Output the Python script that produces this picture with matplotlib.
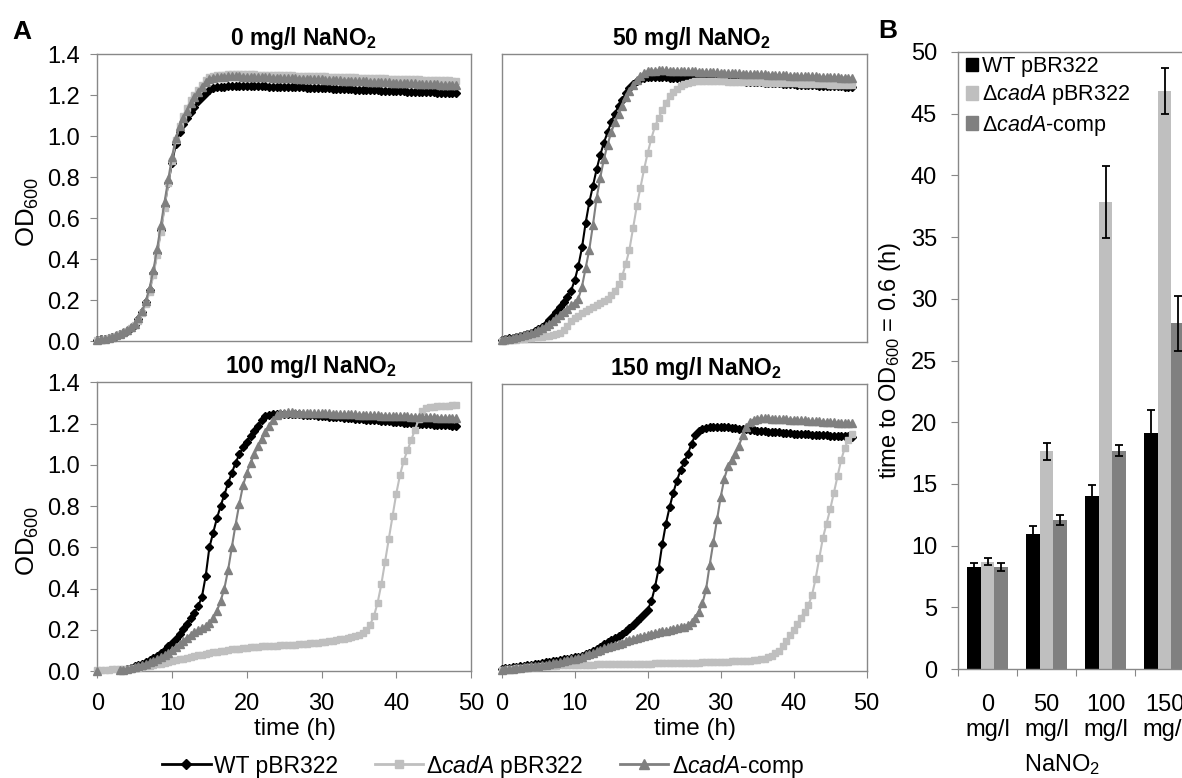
import numpy as np
import matplotlib
matplotlib.use('Agg')
import matplotlib.pyplot as plt
from matplotlib.patches import Patch
from matplotlib.lines import Line2D

plt.rcParams['font.family'] = ['Liberation Sans', 'DejaVu Sans']
plt.rcParams['mathtext.fontset'] = 'custom'
plt.rcParams['mathtext.rm'] = 'Liberation Sans'
plt.rcParams['mathtext.it'] = 'Liberation Sans:italic'
plt.rcParams['mathtext.bf'] = 'Liberation Sans:bold'

# readings every 30 min, 0 - 48 h
time_h = np.arange(0, 48.5, 0.5)
nan = np.nan

# ---- A: OD600 growth curves ----
# 0 mg/l NaNO2
wt_0 = [0.005, 0.008, 0.012, 0.016, 0.02, 0.026, 0.033, 0.041, 0.05, 0.062,
        0.08, 0.105, 0.14, 0.19, 0.25, 0.33, 0.43, 0.54, 0.66, 0.77,
        0.87, 0.96, 1.02, 1.06, 1.09, 1.12, 1.145, 1.17, 1.19, 1.21,
        1.225, 1.235, 1.238, 1.24, 1.242, 1.243, 1.244, 1.245, 1.245, 1.245,
        1.245, 1.245, 1.244, 1.244, 1.243, 1.243, 1.242, 1.242, 1.241, 1.241,
        1.24, 1.24, 1.239, 1.239, 1.238, 1.238, 1.237, 1.236, 1.236, 1.235,
        1.234, 1.234, 1.233, 1.232, 1.232, 1.231, 1.23, 1.23, 1.229, 1.228,
        1.227, 1.227, 1.226, 1.225, 1.224, 1.224, 1.223, 1.222, 1.221, 1.221,
        1.22, 1.219, 1.219, 1.218, 1.217, 1.217, 1.216, 1.215, 1.215, 1.214,
        1.214, 1.213, 1.213, 1.212, 1.212, 1.211, 1.21]
cad_0 = [0.004, 0.007, 0.011, 0.015, 0.019, 0.025, 0.032, 0.04, 0.05, 0.062,
         0.078, 0.1, 0.135, 0.18, 0.24, 0.32, 0.42, 0.53, 0.65, 0.77,
         0.88, 0.98, 1.05, 1.1, 1.14, 1.175, 1.2, 1.225, 1.25, 1.275,
         1.29, 1.295, 1.298, 1.3, 1.301, 1.302, 1.303, 1.303, 1.303, 1.303,
         1.303, 1.302, 1.302, 1.301, 1.301, 1.3, 1.3, 1.299, 1.299, 1.298,
         1.298, 1.297, 1.297, 1.296, 1.296, 1.295, 1.295, 1.294, 1.293, 1.293,
         1.292, 1.292, 1.291, 1.29, 1.29, 1.289, 1.289, 1.288, 1.287, 1.287,
         1.286, 1.286, 1.285, 1.284, 1.284, 1.283, 1.283, 1.282, 1.281, 1.281,
         1.28, 1.28, 1.279, 1.278, 1.278, 1.277, 1.277, 1.276, 1.276, 1.275,
         1.275, 1.274, 1.274, 1.273, 1.273, 1.272, 1.272]
comp_0 = [0.005, 0.008, 0.012, 0.016, 0.021, 0.027, 0.034, 0.043, 0.054, 0.067,
          0.085, 0.11, 0.145, 0.195, 0.26, 0.345, 0.45, 0.565, 0.68, 0.79,
          0.9, 0.99, 1.05, 1.09, 1.125, 1.16, 1.19, 1.215, 1.24, 1.265,
          1.28, 1.285, 1.288, 1.29, 1.291, 1.292, 1.292, 1.292, 1.292, 1.291,
          1.291, 1.29, 1.29, 1.289, 1.288, 1.288, 1.287, 1.286, 1.286, 1.285,
          1.284, 1.284, 1.283, 1.282, 1.281, 1.281, 1.28, 1.279, 1.278, 1.278,
          1.277, 1.276, 1.275, 1.275, 1.274, 1.273, 1.272, 1.272, 1.271, 1.27,
          1.269, 1.268, 1.268, 1.267, 1.266, 1.265, 1.265, 1.264, 1.263, 1.262,
          1.261, 1.261, 1.26, 1.259, 1.258, 1.258, 1.257, 1.256, 1.255, 1.255,
          1.254, 1.253, 1.252, 1.252, 1.251, 1.25, 1.25]

# 50 mg/l NaNO2
wt_50 = [0.012, 0.015, 0.018, 0.021, 0.025, 0.029, 0.034, 0.039, 0.045, 0.052,
         0.062, 0.074, 0.088, 0.105, 0.125, 0.145, 0.17, 0.195, 0.22, 0.25,
         0.3, 0.37, 0.46, 0.58, 0.68, 0.76, 0.84, 0.91, 0.97, 1.02,
         1.07, 1.11, 1.15, 1.18, 1.21, 1.235, 1.255, 1.27, 1.28, 1.287,
         1.288, 1.289, 1.289, 1.289, 1.288, 1.288, 1.287, 1.287, 1.286, 1.285,
         1.284, 1.283, 1.282, 1.281, 1.28, 1.279, 1.278, 1.277, 1.276, 1.275,
         1.274, 1.273, 1.272, 1.271, 1.27, 1.269, 1.268, 1.267, 1.266, 1.265,
         1.264, 1.263, 1.262, 1.261, 1.26, 1.259, 1.258, 1.257, 1.256, 1.255,
         1.254, 1.253, 1.252, 1.251, 1.25, 1.25, 1.249, 1.248, 1.247, 1.247,
         1.246, 1.245, 1.245, 1.244, 1.243, 1.243, 1.242]
cad_50 = [0.004, 0.006, 0.008, 0.01, 0.012, 0.014, 0.016, 0.018, 0.02, 0.022,
          0.024, 0.026, 0.028, 0.03, 0.033, 0.037, 0.045, 0.06, 0.08, 0.1,
          0.115, 0.128, 0.14, 0.15, 0.16, 0.17, 0.18, 0.19, 0.2, 0.21,
          0.228, 0.25, 0.28, 0.32, 0.38, 0.45, 0.555, 0.66, 0.75, 0.84,
          0.92, 0.99, 1.05, 1.09, 1.13, 1.165, 1.195, 1.215, 1.23, 1.245,
          1.255, 1.262, 1.266, 1.268, 1.269, 1.27, 1.27, 1.27, 1.269, 1.269,
          1.268, 1.268, 1.267, 1.267, 1.266, 1.266, 1.265, 1.265, 1.264, 1.264,
          1.263, 1.263, 1.262, 1.262, 1.261, 1.261, 1.26, 1.26, 1.259, 1.259,
          1.258, 1.258, 1.257, 1.257, 1.256, 1.256, 1.255, 1.255, 1.254, 1.254,
          1.253, 1.253, 1.252, 1.252, 1.251, 1.251, 1.25]
comp_50 = [0.01, 0.013, 0.016, 0.019, 0.023, 0.027, 0.032, 0.037, 0.043, 0.05,
           0.058, 0.068, 0.078, 0.09, 0.103, 0.117, 0.132, 0.148, 0.163, 0.178,
           0.192, 0.21, 0.27, 0.36, 0.45, 0.57, 0.7, 0.8, 0.89, 0.96,
           1.02, 1.07, 1.11, 1.15, 1.19, 1.22, 1.25, 1.275, 1.295, 1.31,
           1.318, 1.32, 1.321, 1.322, 1.322, 1.322, 1.321, 1.321, 1.32, 1.32,
           1.319, 1.318, 1.318, 1.317, 1.316, 1.315, 1.315, 1.314, 1.313, 1.312,
           1.311, 1.31, 1.31, 1.309, 1.308, 1.307, 1.306, 1.306, 1.305, 1.304,
           1.303, 1.302, 1.302, 1.301, 1.3, 1.299, 1.299, 1.298, 1.297, 1.296,
           1.296, 1.295, 1.294, 1.294, 1.293, 1.292, 1.292, 1.291, 1.29, 1.29,
           1.289, 1.288, 1.288, 1.287, 1.287, 1.286, 1.285]

# 100 mg/l NaNO2 (nan = below the axis, not shown in the original)
wt_100 = [nan, nan, nan, nan, nan, nan, 0.004, 0.007, 0.011, 0.016,
          0.022, 0.028, 0.034, 0.042, 0.051, 0.061, 0.072, 0.087, 0.103, 0.12,
          0.135, 0.155, 0.18, 0.205, 0.228, 0.255, 0.283, 0.315, 0.36, 0.46,
          0.6, 0.67, 0.74, 0.8, 0.855, 0.91, 0.96, 1.01, 1.05, 1.085,
          1.11, 1.14, 1.165, 1.19, 1.215, 1.235, 1.243, 1.246, 1.247, 1.247,
          1.247, 1.246, 1.246, 1.245, 1.244, 1.243, 1.242, 1.241, 1.24, 1.239,
          1.237, 1.236, 1.234, 1.233, 1.231, 1.23, 1.228, 1.227, 1.225, 1.224,
          1.222, 1.221, 1.219, 1.218, 1.216, 1.215, 1.213, 1.212, 1.21, 1.209,
          1.207, 1.206, 1.204, 1.203, 1.202, 1.2, 1.199, 1.198, 1.197, 1.196,
          1.195, 1.194, 1.193, 1.192, 1.191, 1.19, 1.19]
cad_100 = [0.005, 0.006, 0.006, 0.007, 0.008, 0.009, 0.01, 0.01, 0.011, 0.012,
           0.014, 0.016, 0.019, 0.022, 0.025, 0.028, 0.032, 0.036, 0.04, 0.044,
           0.048, 0.052, 0.056, 0.06, 0.064, 0.068, 0.072, 0.076, 0.08, 0.084,
           0.087, 0.09, 0.093, 0.096, 0.099, 0.102, 0.105, 0.107, 0.109, 0.111,
           0.113, 0.115, 0.116, 0.118, 0.119, 0.12, 0.121, 0.122, 0.123, 0.124,
           0.125, 0.126, 0.127, 0.128, 0.13, 0.131, 0.133, 0.134, 0.136, 0.138,
           0.14, 0.142, 0.144, 0.147, 0.15, 0.153, 0.156, 0.159, 0.163, 0.168,
           0.175, 0.185, 0.2, 0.225, 0.265, 0.33, 0.42, 0.53, 0.64, 0.75,
           0.86, 0.95, 1.02, 1.07, 1.12, 1.17, 1.22, 1.26, 1.275, 1.28,
           1.282, 1.284, 1.285, 1.286, 1.287, 1.288, 1.288]
comp_100 = [0.0, nan, nan, nan, nan, nan, 0.003, 0.006, 0.01, 0.014,
            0.019, 0.024, 0.03, 0.036, 0.043, 0.05, 0.058, 0.067, 0.077, 0.088,
            0.1, 0.115, 0.13, 0.146, 0.162, 0.176, 0.188, 0.198, 0.208, 0.218,
            0.232, 0.255, 0.29, 0.34, 0.4, 0.49, 0.6, 0.71, 0.81, 0.9,
            0.96, 1.01, 1.05, 1.09, 1.125, 1.16, 1.19, 1.215, 1.24, 1.25,
            1.253, 1.254, 1.254, 1.253, 1.253, 1.252, 1.252, 1.251, 1.251, 1.25,
            1.25, 1.249, 1.249, 1.248, 1.247, 1.247, 1.246, 1.245, 1.245, 1.244,
            1.243, 1.243, 1.242, 1.241, 1.241, 1.24, 1.239, 1.239, 1.238, 1.237,
            1.237, 1.236, 1.235, 1.235, 1.234, 1.233, 1.233, 1.232, 1.231, 1.231,
            1.23, 1.229, 1.229, 1.228, 1.227, 1.227, 1.226]

# 150 mg/l NaNO2
wt_150 = [0.012, 0.014, 0.016, 0.018, 0.02, 0.022, 0.024, 0.027, 0.03, 0.033,
          0.036, 0.039, 0.042, 0.045, 0.048, 0.051, 0.054, 0.057, 0.06, 0.063,
          0.066, 0.07, 0.075, 0.082, 0.09, 0.098, 0.108, 0.119, 0.13, 0.142,
          0.153, 0.163, 0.173, 0.183, 0.195, 0.21, 0.225, 0.242, 0.26, 0.278,
          0.3, 0.34, 0.41, 0.5, 0.62, 0.72, 0.8, 0.87, 0.93, 0.98,
          1.02, 1.06, 1.11, 1.15, 1.17, 1.182, 1.188, 1.19, 1.192, 1.192,
          1.192, 1.191, 1.19, 1.188, 1.186, 1.184, 1.182, 1.18, 1.178, 1.176,
          1.174, 1.172, 1.171, 1.169, 1.168, 1.166, 1.165, 1.163, 1.162, 1.16,
          1.159, 1.158, 1.157, 1.156, 1.155, 1.154, 1.153, 1.152, 1.151, 1.15,
          1.149, 1.148, 1.148, 1.147, 1.146, 1.146, 1.145]
cad_150 = [0.005, 0.007, 0.009, 0.011, 0.013, 0.015, 0.016, 0.018, 0.019, 0.02,
           0.021, 0.022, 0.023, 0.024, 0.025, 0.026, 0.027, 0.027, 0.028, 0.028,
           0.029, 0.029, 0.03, 0.03, 0.031, 0.031, 0.032, 0.032, 0.032, 0.033,
           0.033, 0.033, 0.034, 0.034, 0.034, 0.035, 0.035, 0.035, 0.036, 0.036,
           0.036, 0.036, 0.037, 0.037, 0.037, 0.038, 0.038, 0.038, 0.039, 0.039,
           0.039, 0.04, 0.04, 0.041, 0.041, 0.042, 0.042, 0.043, 0.043, 0.044,
           0.045, 0.045, 0.046, 0.047, 0.047, 0.048, 0.049, 0.05, 0.051, 0.052,
           0.054, 0.057, 0.061, 0.066, 0.074, 0.086, 0.1, 0.12, 0.145, 0.175,
           0.2, 0.23, 0.26, 0.29, 0.32, 0.37, 0.45, 0.55, 0.65, 0.72,
           0.79, 0.87, 0.95, 1.03, 1.09, 1.13, 1.155]
comp_150 = [0.006, 0.008, 0.01, 0.012, 0.014, 0.016, 0.018, 0.02, 0.022, 0.024,
            0.026, 0.028, 0.031, 0.034, 0.037, 0.041, 0.045, 0.049, 0.053, 0.057,
            0.061, 0.065, 0.07, 0.076, 0.082, 0.089, 0.096, 0.103, 0.11, 0.117,
            0.123, 0.129, 0.134, 0.139, 0.145, 0.151, 0.157, 0.163, 0.168, 0.173,
            0.177, 0.181, 0.185, 0.189, 0.193, 0.197, 0.201, 0.205, 0.209, 0.213,
            0.217, 0.226, 0.238, 0.26, 0.29, 0.33, 0.4, 0.52, 0.63, 0.74,
            0.85, 0.94, 1.0, 1.03, 1.06, 1.1, 1.15, 1.19, 1.215, 1.228,
            1.232, 1.233, 1.233, 1.233, 1.232, 1.232, 1.231, 1.23, 1.229, 1.228,
            1.227, 1.226, 1.225, 1.224, 1.222, 1.221, 1.22, 1.219, 1.218, 1.217,
            1.215, 1.214, 1.213, 1.212, 1.211, 1.21, 1.21]

panel_titles = ['0 mg/l NaNO$_{\\mathbf{2}}$', '50 mg/l NaNO$_{\\mathbf{2}}$',
                '100 mg/l NaNO$_{\\mathbf{2}}$', '150 mg/l NaNO$_{\\mathbf{2}}$']
curves = [(wt_0, cad_0, comp_0), (wt_50, cad_50, comp_50),
          (wt_100, cad_100, comp_100), (wt_150, cad_150, comp_150)]

# ---- B: time to OD600 = 0.6 ----
conc_labels = ['0\nmg/l', '50\nmg/l', '100\nmg/l', '150\nmg/l']
t_wt = [8.25, 10.95, 14.05, 19.15]
t_wt_err = [0.3, 0.65, 0.9, 1.85]
t_cad = [8.7, 17.65, 37.85, 46.85]
t_cad_err = [0.3, 0.7, 2.9, 1.85]
t_comp = [8.25, 12.05, 17.7, 28.0]
t_comp_err = [0.3, 0.4, 0.45, 2.2]

series_names = ['WT pBR322', 'Δ$\\mathit{cadA}$ pBR322', 'Δ$\\mathit{cadA}$-comp']
c_wt, c_cad, c_comp = '#000000', '#bfbfbf', '#808080'
spine_c = '#888888'

W, H = 1182, 778
fig = plt.figure(figsize=(W / 100, H / 100), dpi=100)


def px_axes(l, t, r, b):
    return fig.add_axes([l / W, 1 - b / H, (r - l) / W, (b - t) / H])


boxes = [(97.3, 54.3, 471, 341), (501.7, 54.3, 866.7, 342),
         (97.3, 382.3, 471, 671), (501.7, 384.3, 866.7, 671)]
title_x = [0.55, 0.519, 0.572, 0.532]

for i, (box, ttl, (wt, cad, comp)) in enumerate(zip(boxes, panel_titles, curves)):
    ax = px_axes(*box)
    ax.plot(time_h, wt, '-D', color=c_wt, ms=4.5, lw=1.5, clip_on=False, zorder=3)
    ax.plot(time_h, cad, '-s', color=c_cad, ms=5, lw=1.5, clip_on=False, zorder=4)
    ax.plot(time_h, comp, '-^', color=c_comp, ms=6, lw=1.5, clip_on=False, zorder=5)
    ax.set_xlim(0, 50)
    ax.set_ylim(0, 1.4)
    ax.set_xticks(range(0, 51, 10))
    ax.set_yticks(np.arange(0, 1.41, 0.2))
    for s in ax.spines.values():
        s.set_color(spine_c)
        s.set_linewidth(1)
    left = i % 2 == 0
    bottom = i >= 2
    ax.tick_params(axis='y', direction='out', length=5 if left else 0,
                   color=spine_c, labelsize=17, pad=7.5, labelleft=left)
    ax.tick_params(axis='x', direction='out', length=5 if bottom else 0,
                   color=spine_c, labelsize=17, pad=11, labelbottom=bottom)
    if left:
        ax.set_yticklabels(['%.1f' % v for v in np.arange(0, 1.41, 0.2)])
    ax.text(title_x[i], 1.0 + 16 / 288, ttl, transform=ax.transAxes,
            ha='center', va='center', fontsize=16.5, fontweight='bold')

# axis labels for A
for yc in (212, 541):
    fig.text(27.5 / W, 1 - yc / H, 'OD$_{\\mathrm{600}}$', rotation=90,
             ha='center', va='center', fontsize=18.5)
for xc in (295, 695):
    fig.text(xc / W, 1 - 729 / H, 'time (h)', ha='center', va='center', fontsize=17.5)

handles = [Line2D([], [], color=c_wt, marker='D', ms=5, lw=2),
           Line2D([], [], color=c_cad, marker='s', ms=5.5, lw=2),
           Line2D([], [], color=c_comp, marker='^', ms=6.5, lw=2)]
fig.legend(handles, series_names, loc='center', bbox_to_anchor=(483 / W, 1 - 766 / H),
           ncol=3, frameon=False, fontsize=16.5, handlelength=2.1,
           handletextpad=0.15, columnspacing=1.6, numpoints=1)

# ---- bar chart B ----
axb = px_axes(958, 52, 1194, 669)
x = np.arange(len(conc_labels))
bw = 0.226
ekw = dict(ecolor='black', elinewidth=1.3, capsize=3, capthick=1.3)
axb.bar(x - bw, t_wt, bw, yerr=t_wt_err, color=c_wt, error_kw=ekw)
axb.bar(x, t_cad, bw, yerr=t_cad_err, color=c_cad, error_kw=ekw)
axb.bar(x + bw, t_comp, bw, yerr=t_comp_err, color=c_comp, error_kw=ekw)
axb.set_xlim(-0.5, 3.5)
axb.set_ylim(0, 50)
axb.set_yticks(range(0, 51, 5))
axb.set_xticks([-0.5, 0.5, 1.5, 2.5, 3.5])
axb.set_xticklabels([])
axb.set_xticks(x, minor=True)
axb.set_xticklabels(conc_labels, minor=True, fontsize=17, linespacing=1.2)
axb.tick_params(axis='x', which='major', direction='out', length=5, color=spine_c)
axb.tick_params(axis='x', which='minor', length=0, pad=18)
axb.tick_params(axis='y', direction='out', length=5, color=spine_c, labelsize=17, pad=10)
for s in axb.spines.values():
    s.set_color(spine_c)
    s.set_linewidth(1)
fig.text(890 / W, 1 - 360 / H, 'time to OD$_{\\mathrm{600}}$ = 0.6 (h)', rotation=90,
         ha='center', va='center', fontsize=17)
fig.text(1062 / W, 1 - 765 / H, 'NaNO$_{\\mathrm{2}}$', ha='center', va='center', fontsize=17)
bar_handles = [Patch(color=c) for c in (c_wt, c_cad, c_comp)]
axb.legend(bar_handles, series_names, loc='upper left',
           bbox_to_anchor=(966 / W, 1 - 56 / H), bbox_transform=fig.transFigure,
           frameon=False, fontsize=15.5, handlelength=0.55, handleheight=0.6,
           handletextpad=0.2, labelspacing=0.25, borderpad=0, borderaxespad=0)

fig.text(22 / W, 1 - 32 / H, 'A', fontsize=19, fontweight='bold', ha='center', va='center')
fig.text(888 / W, 1 - 31 / H, 'B', fontsize=19, fontweight='bold', ha='center', va='center')

fig.savefig('out.png', dpi=100)
